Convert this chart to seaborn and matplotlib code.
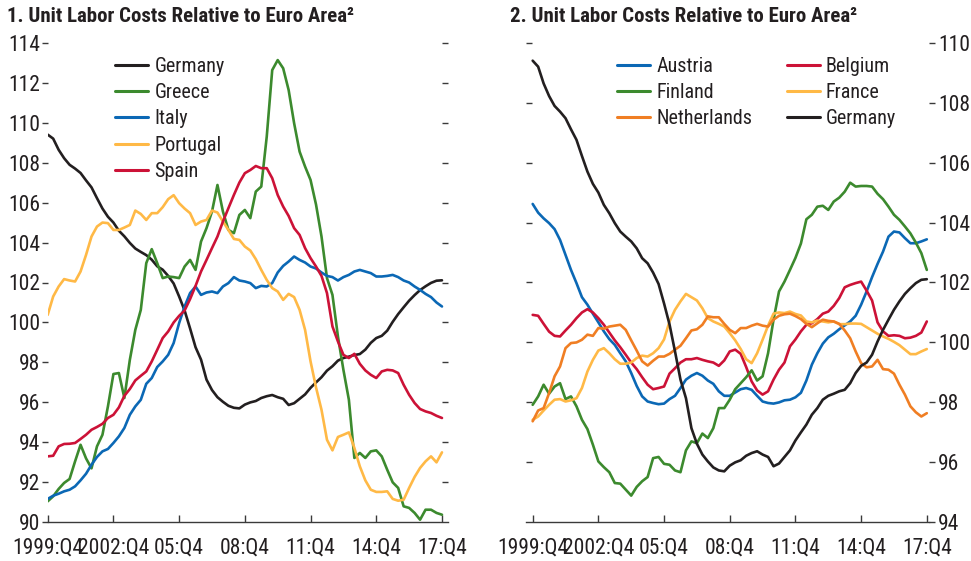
import matplotlib
matplotlib.use("Agg")
import matplotlib.pyplot as plt
import pandas as pd
import seaborn as sns
from matplotlib import font_manager as fm
from matplotlib.lines import Line2D

# Quarterly index values, 1999:Q4 .. 2017:Q4 (euro area = 100)
quarters = list(range(73))
tick_positions = [0, 12, 24, 36, 48, 60, 72]
tick_labels = ["1999:Q4", "2002:Q4", "05:Q4", "08:Q4", "11:Q4", "14:Q4", "17:Q4"]

germany = [109.4, 109.2, 108.64, 108.22, 107.89, 107.7, 107.48, 107.11, 106.76, 106.22,
           105.7, 105.29, 105.0, 104.59, 104.31, 103.98, 103.7, 103.53, 103.37, 103.14,
           102.81, 102.64, 102.33, 101.95, 101.3, 100.6, 99.7, 98.76, 98.14, 97.14,
           96.62, 96.26, 96.03, 95.83, 95.73, 95.7, 95.89, 96.0, 96.07, 96.22,
           96.31, 96.37, 96.26, 96.18, 95.87, 95.96, 96.18, 96.4, 96.73, 97.0,
           97.26, 97.59, 97.81, 98.09, 98.22, 98.29, 98.37, 98.42, 98.64, 98.98,
           99.22, 99.33, 99.59, 100.03, 100.42, 100.76, 101.09, 101.37, 101.62, 101.81,
           101.98, 102.09, 102.11]
greece = [91.05, 91.3, 91.67, 91.97, 92.17, 93.05, 93.88, 93.2, 92.7, 93.8,
          94.38, 95.8, 97.42, 97.47, 96.22, 98.13, 99.63, 100.63, 102.97, 103.67,
          102.97, 102.22, 102.3, 102.27, 102.22, 102.8, 103.13, 102.63, 104.05, 104.72,
          105.55, 106.88, 105.55, 104.63, 104.47, 105.38, 105.63, 105.22, 106.55, 106.8,
          109.3, 112.63, 113.13, 112.72, 111.63, 109.97, 108.55, 107.8, 107.13, 105.9,
          104.3, 102.22, 101.38, 99.3, 97.63, 96.13, 93.22, 93.47, 93.22, 93.55,
          93.6, 93.3, 92.63, 92.0, 91.72, 90.8, 90.72, 90.47, 90.13, 90.63,
          90.63, 90.47, 90.38]
italy = [91.17, 91.33, 91.43, 91.55, 91.63, 91.8, 92.1, 92.43, 92.88, 93.27,
         93.55, 93.67, 93.97, 94.3, 94.72, 95.38, 95.8, 96.13, 96.93, 97.22,
         97.77, 98.05, 98.38, 98.97, 99.97, 100.8, 101.47, 101.8, 101.38, 101.5,
         101.55, 101.47, 101.8, 101.97, 102.27, 102.1, 102.05, 101.97, 101.72, 101.83,
         101.8, 101.97, 102.5, 102.83, 103.05, 103.3, 103.13, 103.0, 102.8, 102.7,
         102.5, 102.33, 102.27, 102.1, 102.27, 102.38, 102.55, 102.63, 102.55, 102.47,
         102.3, 102.3, 102.33, 102.38, 102.27, 102.1, 102.0, 101.8, 101.63, 101.43,
         101.27, 101.0, 100.8]
portugal = [100.38, 101.3, 101.8, 102.17, 102.1, 102.05, 102.55, 103.38, 104.3, 104.8,
            105.0, 104.97, 104.63, 104.63, 104.75, 104.88, 105.6, 105.43, 105.13, 105.47,
            105.47, 105.77, 106.17, 106.37, 105.97, 105.7, 105.47, 104.88, 105.05, 105.13,
            105.6, 105.5, 105.05, 104.63, 104.18, 104.13, 103.8, 103.6, 103.17, 102.63,
            102.13, 101.72, 101.55, 101.13, 101.43, 101.27, 100.63, 99.63, 98.05, 96.75,
            95.63, 94.13, 93.6, 94.27, 94.38, 94.5, 93.72, 92.8, 92.1, 91.63,
            91.52, 91.52, 91.55, 91.17, 91.08, 91.13, 91.72, 92.27, 92.72, 93.05,
            93.3, 93.0, 93.5]
spain = [93.3, 93.33, 93.8, 93.92, 93.93, 93.97, 94.17, 94.38, 94.63, 94.77,
         94.93, 95.22, 95.38, 95.75, 96.33, 96.67, 97.1, 97.33, 97.55, 98.05,
         98.63, 99.22, 99.55, 100.0, 100.33, 100.6, 101.17, 101.83, 102.55, 103.13,
         103.72, 104.3, 105.05, 105.72, 106.38, 107.0, 107.47, 107.63, 107.83, 107.72,
         107.72, 107.22, 106.38, 105.8, 105.33, 104.72, 104.38, 103.72, 103.22, 102.8,
         102.33, 101.47, 99.8, 99.05, 98.38, 98.22, 98.43, 97.93, 97.6, 97.38,
         97.22, 97.55, 97.63, 97.6, 97.47, 96.88, 96.38, 95.97, 95.67, 95.55,
         95.47, 95.33, 95.22]
austria = [104.62, 104.33, 104.14, 103.98, 103.78, 103.42, 102.92, 102.42, 101.98, 101.51,
           101.26, 100.96, 100.67, 100.37, 100.11, 99.92, 99.64, 99.37, 98.98, 98.55,
           98.2, 98.03, 97.98, 97.94, 97.96, 98.11, 98.22, 98.48, 98.76, 98.89,
           98.98, 98.89, 98.73, 98.62, 98.37, 98.22, 98.22, 98.33, 98.44, 98.48,
           98.42, 98.22, 98.03, 97.98, 97.96, 98.0, 98.07, 98.09, 98.17, 98.32,
           98.73, 99.26, 99.64, 99.96, 100.17, 100.29, 100.44, 100.57, 100.7, 100.89,
           101.26, 101.7, 102.18, 102.62, 103.03, 103.53, 103.7, 103.67, 103.48, 103.31,
           103.31, 103.37, 103.44]
finland = [97.92, 98.2, 98.59, 98.29, 98.53, 98.64, 98.11, 98.2, 97.87, 97.42,
           97.11, 96.59, 96.03, 95.84, 95.67, 95.31, 95.29, 95.09, 94.89, 95.18,
           95.37, 95.51, 96.14, 96.18, 95.95, 95.92, 95.73, 95.67, 96.4, 96.7,
           96.64, 96.96, 96.81, 97.14, 97.81, 97.81, 98.09, 98.44, 98.64, 98.84,
           99.07, 98.73, 98.87, 99.64, 100.76, 101.7, 102.03, 102.42, 102.82, 103.3,
           104.11, 104.26, 104.53, 104.56, 104.42, 104.7, 104.83, 105.03, 105.33, 105.2,
           105.22, 105.22, 105.2, 104.96, 104.78, 104.53, 104.26, 104.09, 103.87, 103.64,
           103.33, 102.98, 102.42]
netherlands = [97.37, 97.73, 97.81, 98.31, 98.87, 99.2, 99.81, 99.98, 100.0, 100.09,
               100.26, 100.22, 100.48, 100.46, 100.53, 100.56, 100.59, 100.42, 100.07, 99.73,
               99.37, 99.23, 99.39, 99.53, 99.53, 99.62, 99.76, 99.89, 100.14, 100.4,
               100.44, 100.59, 100.87, 100.84, 100.84, 100.62, 100.42, 100.31, 100.48, 100.48,
               100.56, 100.62, 100.56, 100.53, 100.76, 100.89, 100.94, 100.96, 100.88, 100.78,
               100.62, 100.51, 100.64, 100.76, 100.72, 100.7, 100.62, 100.4, 100.14, 99.7,
               99.31, 99.17, 99.2, 99.42, 99.11, 99.09, 98.96, 98.59, 98.26, 97.87,
               97.67, 97.53, 97.64]
belgium = [100.92, 100.89, 100.62, 100.36, 100.22, 100.2, 100.4, 100.59, 100.81, 101.0,
           101.11, 101.0, 100.81, 100.59, 100.33, 100.07, 99.84, 99.59, 99.33, 99.11,
           98.84, 98.59, 98.44, 98.48, 98.53, 98.96, 99.14, 99.33, 99.44, 99.44,
           99.48, 99.42, 99.37, 99.33, 99.22, 99.4, 99.7, 99.76, 99.62, 99.18,
           98.7, 98.4, 98.26, 98.37, 98.76, 99.09, 99.33, 99.87, 100.1, 100.37,
           100.59, 100.64, 100.78, 100.96, 101.03, 101.22, 101.48, 101.84, 101.92, 101.98,
           102.03, 101.73, 101.4, 100.67, 100.37, 100.22, 100.24, 100.22, 100.14, 100.16,
           100.22, 100.33, 100.7]
france = [97.42, 97.53, 97.73, 97.92, 98.09, 98.11, 98.03, 98.07, 98.14, 98.48,
          99.03, 99.42, 99.73, 99.81, 99.64, 99.44, 99.29, 99.29, 99.33, 99.48,
          99.56, 99.53, 99.64, 99.81, 100.1, 100.7, 101.09, 101.37, 101.62, 101.51,
          101.4, 101.14, 100.81, 100.7, 100.62, 100.53, 100.31, 100.07, 99.78, 99.44,
          99.31, 99.64, 100.09, 100.56, 100.96, 101.0, 100.98, 101.03, 100.95, 100.9,
          100.7, 100.67, 100.73, 100.7, 100.67, 100.7, 100.61, 100.61, 100.63, 100.63,
          100.62, 100.51, 100.4, 100.29, 100.2, 100.12, 100.02, 99.91, 99.76, 99.61,
          99.61, 99.7, 99.78]

TEXT = "#231f20"
AXIS = "#3a3a3a"
palette = {
    "Germany": "#231f20", "Greece": "#3c8a2e", "Italy": "#0b68b5",
    "Portugal": "#ffb946", "Spain": "#cc1237", "Austria": "#0b68b5",
    "Belgium": "#cc1237", "Finland": "#3c8a2e", "France": "#ffb946",
    "Netherlands": "#f07e23",
}

left_series = {"Germany": germany, "Greece": greece, "Italy": italy,
               "Portugal": portugal, "Spain": spain}
right_series = {"Austria": austria, "Belgium": belgium, "Finland": finland,
                "France": france, "Netherlands": netherlands, "Germany": germany}


def long_frame(series):
    rows = []
    for name, vals in series.items():
        for q, v in zip(quarters, vals):
            rows.append({"quarter": q, "value": v, "country": name})
    return pd.DataFrame(rows)


def _weight(f):
    w = f.weight
    if isinstance(w, str):
        return 700 if "bold" in w.lower() else 400
    return int(w)


def pick_font(bold):
    """Prefer a narrow sans face; fall back to Liberation Sans."""
    prefs = ["liberation sans narrow", "roboto condensed", "open sans condensed",
             "noto sans condensed", "dejavu sans condensed", "condensed", "narrow"]
    best = None
    for f in fm.fontManager.ttflist:
        fn = f.fname.lower()
        nm = f.name.lower()
        key = (nm + " " + fn.split("/")[-1]).replace("-", " ").replace("_", " ")
        stretch = str(f.stretch).lower()
        is_narrow = ("narrow" in key or "condensed" in key or "condensed" in stretch)
        if not is_narrow or "mono" in key or "serif" in key.replace("sans", ""):
            continue
        if "italic" in key or "oblique" in key or str(f.style) != "normal":
            continue
        w = _weight(f)
        if bold and w < 600:
            continue
        if not bold and (w >= 600 or w < 350):
            continue
        rank = next((i for i, p in enumerate(prefs) if p in key), len(prefs))
        if "extra" in key or "ultra" in key or "semi" in key:
            rank += 0.5
        if best is None or rank < best[0]:
            best = (rank, f.fname)
    if best is not None:
        return best[1], True
    return None, False


sns.set_theme(style="white")
plt.rcParams["font.family"] = ["Liberation Sans", "DejaVu Sans"]
plt.rcParams["text.color"] = TEXT

reg_file, narrow_ok = pick_font(False)
bold_file, bold_ok = pick_font(True)
SCALE = 1.0 if narrow_ok else 0.86


def fp(size, bold=False):
    size = size * SCALE
    if bold and bold_ok:
        return fm.FontProperties(fname=bold_file, size=size)
    if not bold and narrow_ok:
        return fm.FontProperties(fname=reg_file, size=size)
    return fm.FontProperties(family=["Liberation Sans", "DejaVu Sans"], size=size,
                             weight="bold" if bold else "normal")


W, H = 971, 561
fig = plt.figure(figsize=(W / 100, H / 100), dpi=100)


def frac_box(x0, x1, ytop, ybot):
    return [x0 / W, 1 - ybot / H, (x1 - x0) / W, (ybot - ytop) / H]


ax1 = fig.add_axes(frac_box(47.7, 448, 42.7, 522.3))
ax2 = fig.add_axes(frac_box(526, 929, 42.7, 522.3))

LW = 1.9
sns.lineplot(data=long_frame(left_series), x="quarter", y="value", hue="country",
             hue_order=list(left_series), palette=palette, linewidth=LW,
             legend=False, estimator=None, sort=False, ax=ax1)
sns.lineplot(data=long_frame(right_series), x="quarter", y="value", hue="country",
             hue_order=list(right_series), palette=palette, linewidth=LW,
             legend=False, estimator=None, sort=False, ax=ax2)

ax1.set_xlim(0, 73.1)
ax1.set_ylim(90, 114)
ax2.set_xlim(-1.22, 72.4)
ax2.set_ylim(94, 110)

tick_fp = fp(15.5)
for ax in (ax1, ax2):
    ax.set_xlabel("")
    ax.set_ylabel("")
    for s in ("top", "left", "right"):
        ax.spines[s].set_visible(False)
    ax.spines["bottom"].set_color(AXIS)
    ax.spines["bottom"].set_linewidth(1.0)
    ax.set_xticks(tick_positions)
    ax.set_xticklabels(tick_labels)
    ax.tick_params(axis="x", direction="in", length=5, width=1.0, color=AXIS,
                   pad=11, labelcolor=TEXT, bottom=True)
    ax.set_facecolor("none")

# left panel: labelled ticks on the left, plain dashes on the right
yt1 = list(range(90, 115, 2))
ax1.set_yticks(yt1)
ax1.tick_params(axis="y", direction="out", length=4.5, width=1.0, color=AXIS,
                pad=1, labelcolor=TEXT, left=True, right=False)
sec1 = ax1.secondary_yaxis("right")
sec1.set_yticks(yt1[1:])
sec1.tick_params(axis="y", direction="in", length=4.5, width=1.0, color=AXIS,
                 labelright=False)
sec1.spines["right"].set_visible(False)

# right panel: labelled ticks on the right, plain dashes on the left
yt2 = list(range(94, 111, 2))
ax2.set_yticks(yt2)
ax2.yaxis.tick_right()
ax2.tick_params(axis="y", direction="out", length=4, width=1.0, color=AXIS,
                pad=2.5, labelcolor=TEXT, left=False, right=True)
sec2 = ax2.secondary_yaxis("left")
sec2.set_yticks(yt2[1:])
sec2.tick_params(axis="y", direction="in", length=4.5, width=1.0, color=AXIS,
                 labelleft=False)
sec2.spines["left"].set_visible(False)

for ax in (ax1, ax2):
    for lab in ax.get_xticklabels() + ax.get_yticklabels():
        lab.set_fontproperties(tick_fp)

# titles
title = "Unit Labor Costs Relative to Euro Area\u00b2"
title_fp = fp(15.0, bold=True)
fig.text(7 / W, 1 - 17 / H, "1. " + title, fontproperties=title_fp,
         color=TEXT, va="center", ha="left")
fig.text(510 / W, 1 - 17 / H, "2. " + title, fontproperties=title_fp,
         color=TEXT, va="center", ha="left")


def handles_for(names):
    return [Line2D([0], [0], color=palette[n], lw=2.2) for n in names]


leg_kw = dict(frameon=False, prop=fp(14.5), handlelength=1.65, handletextpad=0.3,
              labelspacing=0.36, borderpad=0, borderaxespad=0,
              bbox_transform=fig.transFigure, loc="upper left", labelcolor=TEXT)

left_names = ["Germany", "Greece", "Italy", "Portugal", "Spain"]
ax1.legend(handles_for(left_names), left_names,
           bbox_to_anchor=(115 / W, 1 - 57 / H), **leg_kw)

right_names = ["Austria", "Finland", "Netherlands", "Belgium", "France", "Germany"]
ax2.legend(handles_for(right_names), right_names, ncol=2, columnspacing=1.7,
           bbox_to_anchor=(617 / W, 1 - 57 / H), **leg_kw)

fig.savefig("out.png", dpi=100)
